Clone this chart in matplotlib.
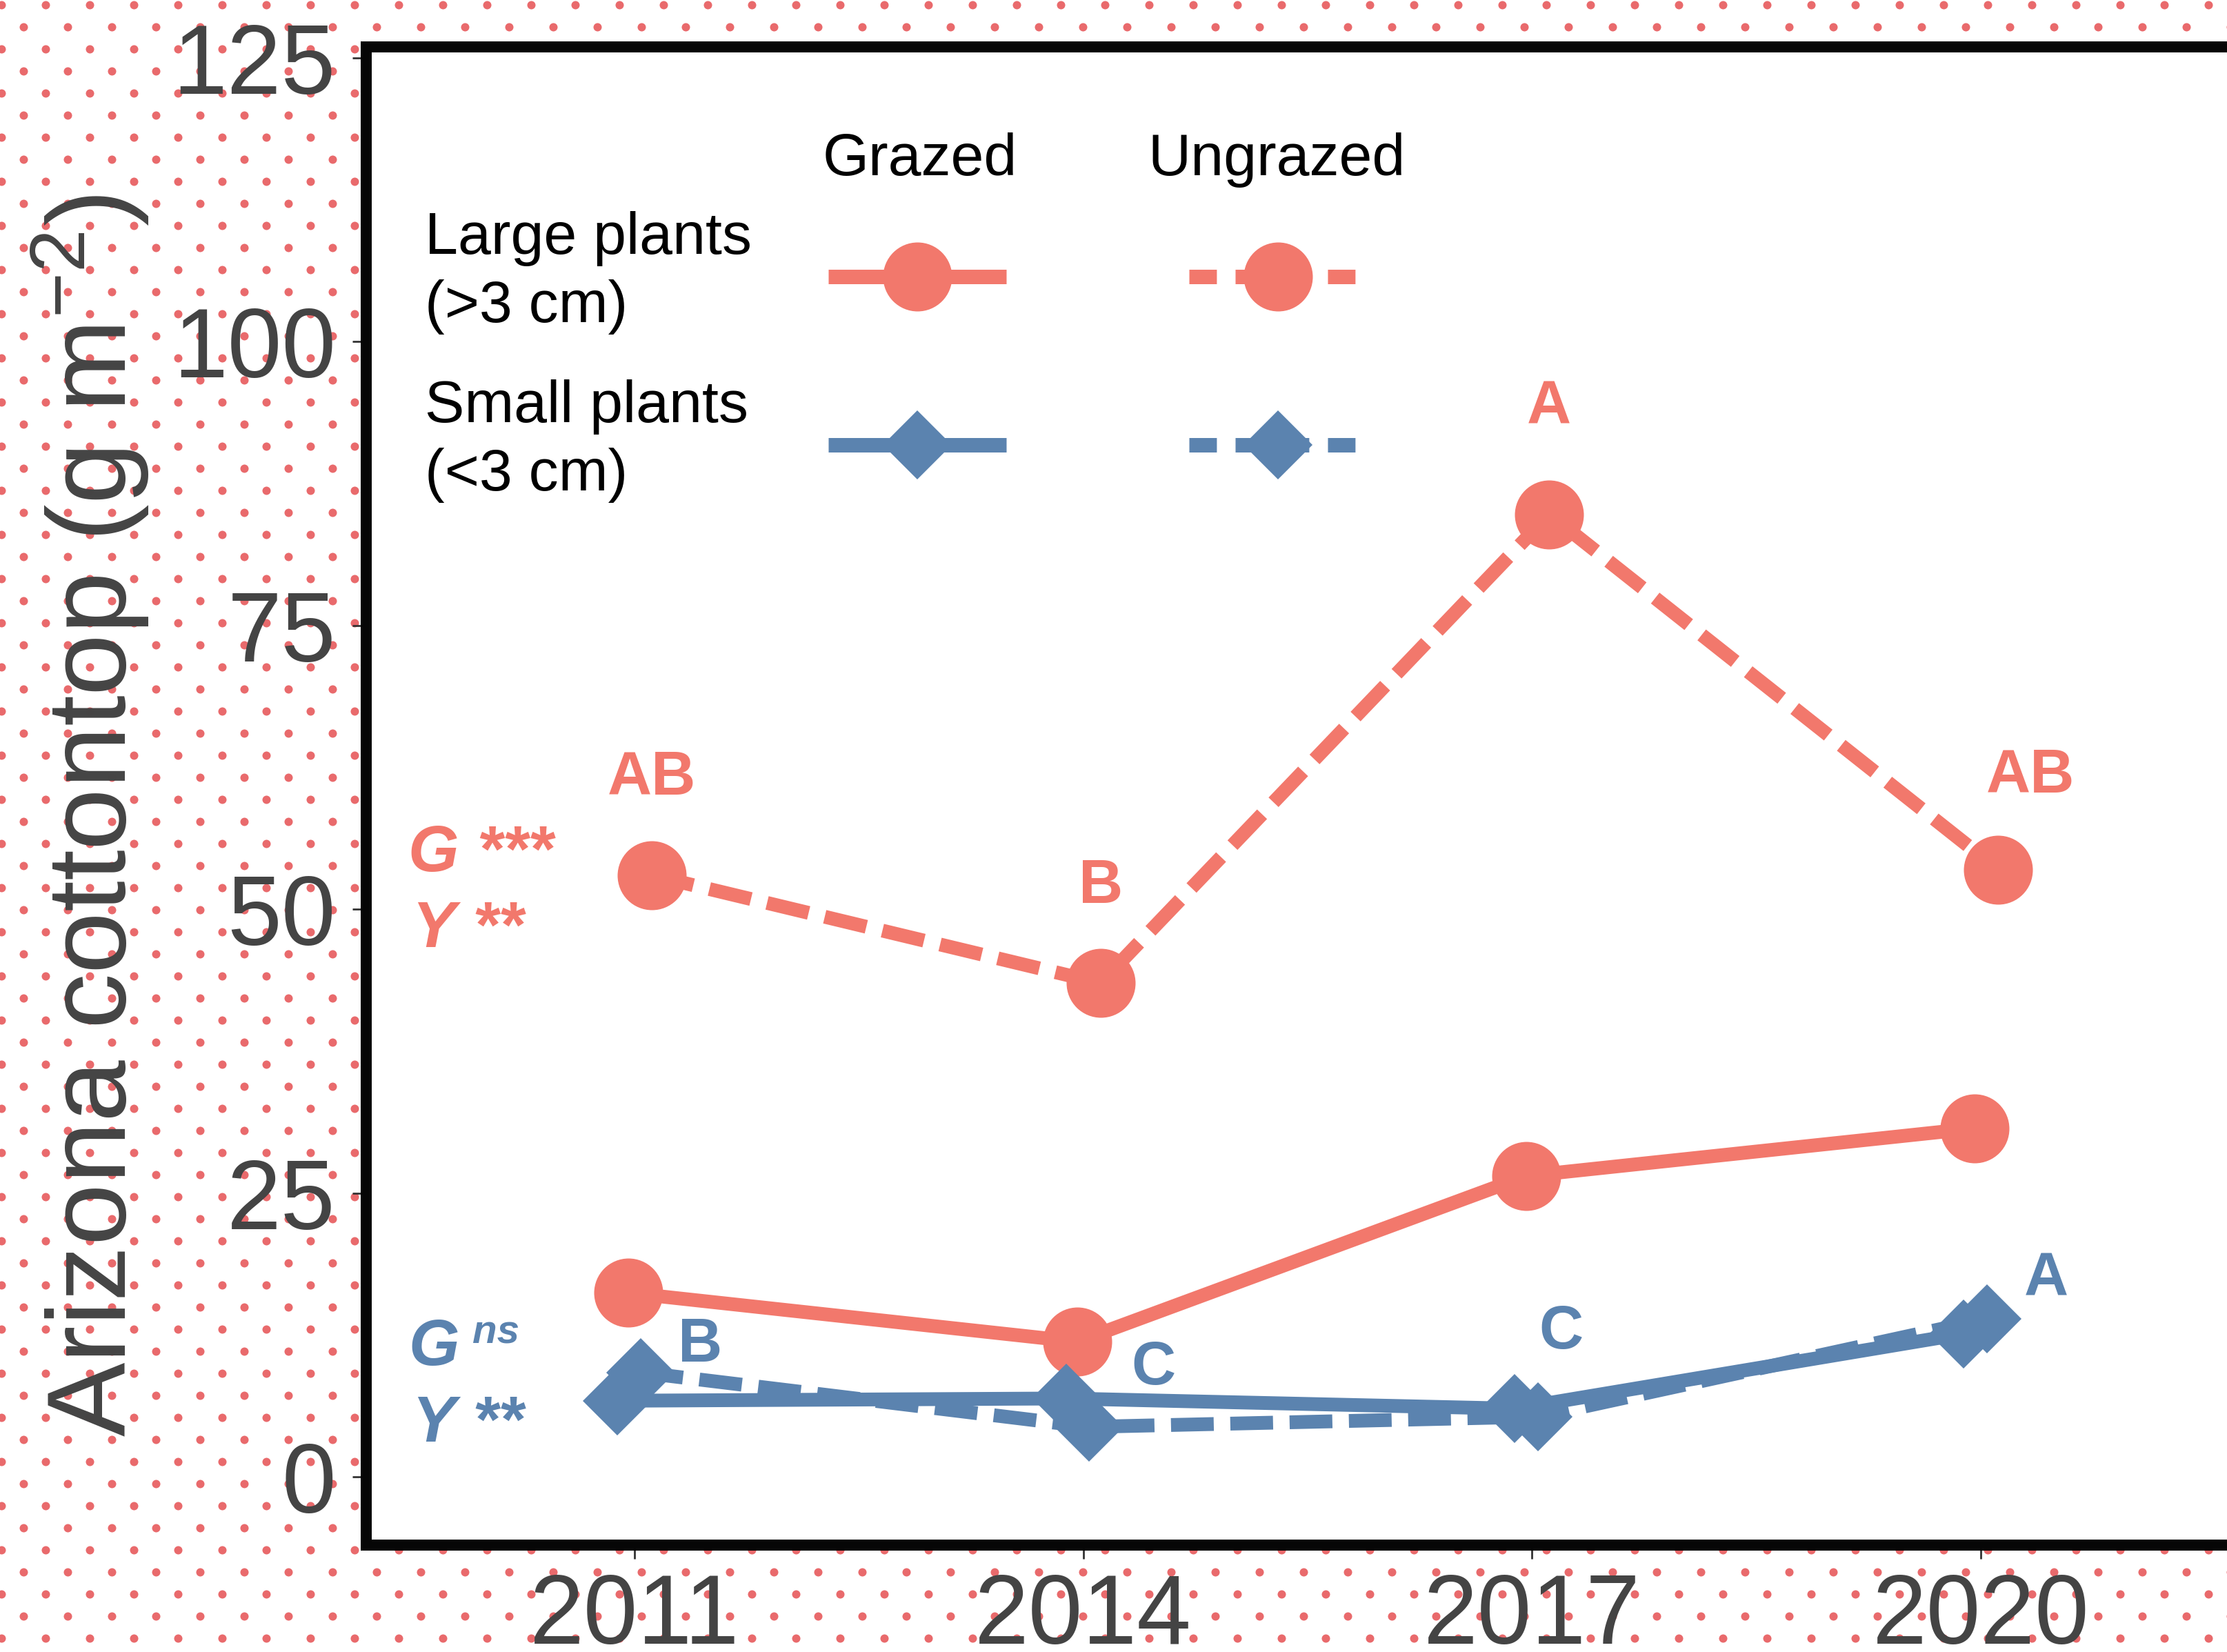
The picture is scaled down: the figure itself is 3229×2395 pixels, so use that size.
import numpy as np
import matplotlib
matplotlib.use('Agg')
import matplotlib.pyplot as plt

plt.rcParams['font.family'] = ['Liberation Sans', 'DejaVu Sans']
plt.rcParams['mathtext.fontset'] = 'custom'
plt.rcParams['mathtext.rm'] = 'Liberation Sans'
plt.rcParams['mathtext.it'] = 'Liberation Sans:italic'
plt.rcParams['mathtext.bf'] = 'Liberation Sans:bold'

# ---------------- data ----------------
years = np.array([2011, 2014, 2017, 2020])
large_grazed = [16.2, 11.9, 26.5, 30.7]
large_ungrazed = [53.0, 43.5, 84.8, 53.5]
small_grazed = [6.7, 6.9, 6.0, 12.6]
small_ungrazed = [9.2, 4.4, 5.3, 13.9]
large_letters = ['AB', 'B', 'A', 'AB']
small_letters = ['B', 'C', 'C', 'A']
yticks = [0, 25, 50, 75, 100, 125]
xtick_labels = ['2011', '2014', '2017', '2020']
ylabel = 'Arizona cottontop (g m$^{-2}$)'
legend_cols = ['Grazed', 'Ungrazed']
legend_rows = [('Large plants', '(>3 cm)'), ('Small plants', '(<3 cm)')]

# ---------------- style / layout ----------------
W, H, DPI = 3229, 2395, 200
RED = '#F2786C'
BLUE = '#5B83AF'
DOT = '#E96A6C'
GREY = '#444444'
LW = 7.2
DASH = (0, (3.1, 1.2))
DODGE = {'sg': -0.115, 'lg': -0.04, 'su': 0.04, 'lu': 0.115}
large_label_off = [(0, 50.5), (0, 50), (0, 55.5), (17, 48.5)]
small_label_off = [(31, 14), (33.5, 30.5), (12, 44), (31, 20.5)]

fig = plt.figure(figsize=(W / DPI, H / DPI), dpi=DPI)
fig.patch.set_facecolor('white')

# dotted background
bg = fig.add_axes([0, 0, 1, 1], zorder=-1)
bg.set_xlim(0, W); bg.set_ylim(H, 0); bg.axis('off')
xs, ys = [], []
for k, yy in enumerate(np.arange(7, H + 32, 32)):
    x0 = 2 if k % 2 == 0 else 34
    xx = np.arange(x0, W + 64, 64)
    xs.append(xx); ys.append(np.full_like(xx, yy))
bg.scatter(np.concatenate(xs), np.concatenate(ys), s=18.7, c=DOT, linewidths=0)

# main axes
left_px, right_px, top_px, bot_px = 530.5, 3329, 68, 2240
ax = fig.add_axes([left_px / W, 1 - bot_px / H, (right_px - left_px) / W, (bot_px - top_px) / H], zorder=0)
ax.set_facecolor('white')
px_per_year = 216.9
x0 = 2011 - (920 - left_px) / px_per_year
ax.set_xlim(x0, x0 + (right_px - left_px) / px_per_year)
ax.set_ylim(-6.016, 125.97)

for s in ax.spines.values():
    s.set_linewidth(5.76)
    s.set_color('#060606')

ax.plot(years + DODGE['lu'], large_ungrazed, color=RED, lw=LW, ls=DASH, marker='o', ms=36, mew=0, zorder=3)
ax.plot(years + DODGE['lg'], large_grazed, color=RED, lw=LW, ls='-', marker='o', ms=36, mew=0, zorder=3)
ax.plot(years + DODGE['su'], small_ungrazed, color=BLUE, lw=LW, ls=DASH, marker='D', ms=25.5, mew=0, zorder=4)
ax.plot(years + DODGE['sg'], small_grazed, color=BLUE, lw=LW, ls='-', marker='D', ms=25.5, mew=0, zorder=4)

for i, y in enumerate(years):
    ax.annotate(large_letters[i], (y + DODGE['lu'], large_ungrazed[i]), xytext=large_label_off[i],
                textcoords='offset points', ha='center', va='center', fontsize=32,
                fontweight='bold', color=RED)
    ax.annotate(small_letters[i], (y + DODGE['su'], small_ungrazed[i]), xytext=small_label_off[i],
                textcoords='offset points', ha='center', va='center', fontsize=32,
                fontweight='bold', color=BLUE)

ax.set_xticks(years)
ax.set_xticklabels(xtick_labels)
ax.set_yticks(yticks)
ax.set_yticklabels([str(t) for t in yticks])
ax.tick_params(axis='both', direction='out', length=7.2, width=1.0, color='#333333',
               labelsize=51, labelcolor=GREY)
ax.tick_params(axis='y', pad=8.5)
ax.tick_params(axis='x', pad=7)

# overlay for legend and annotations (pixel coordinates)
ov = fig.add_axes([0, 0, 1, 1], zorder=5)
ov.set_xlim(0, W); ov.set_ylim(H, 0); ov.axis('off')
ov.patch.set_visible(False)

fig.text(131 / W, 1 - 1183 / H, ylabel, rotation=90, ha='center', va='center',
         fontsize=58, color=GREY)

# statistics
ov.text(592, 1263, 'G ***', fontsize=34, fontweight='bold', fontstyle='italic', color=RED,
        ha='left', va='baseline')
ov.text(598, 1373, 'Y **', fontsize=34, fontweight='bold', fontstyle='italic', color=RED,
        ha='left', va='baseline')
ov.text(592, 1979, 'G', fontsize=34, fontweight='bold', fontstyle='italic', color=BLUE,
        ha='left', va='baseline')
ov.text(685, 1948, 'ns', fontsize=21, fontweight='bold', fontstyle='italic', color=BLUE,
        ha='left', va='baseline')
ov.text(598, 2090, 'Y **', fontsize=34, fontweight='bold', fontstyle='italic', color=BLUE,
        ha='left', va='baseline')

# legend
ov.text(1334, 254, legend_cols[0], ha='center', va='baseline', fontsize=31, color='black')
ov.text(1851, 254, legend_cols[1], ha='center', va='baseline', fontsize=31, color='black')
row_y = [401, 645]
text_base = [(368, 467), (612, 711)]
for (l1, l2), ry, (b1, b2), col, mk, ms in zip(legend_rows, row_y, text_base,
                                                [RED, BLUE], ['o', 'D'], [36, 25.5]):
    ov.text(616, b1, l1, ha='left', va='baseline', fontsize=31, color='black')
    ov.text(616, b2, l2, ha='left', va='baseline', fontsize=31, color='black')
    ov.plot([1201, 1459], [ry, ry], color=col, lw=7.56, solid_capstyle='butt')
    ov.plot([1330], [ry], marker=mk, ms=ms, color=col, mew=0, ls='none')
    ov.plot([1724, 1965], [ry, ry], color=col, lw=7.56, ls=(0, (1.9, 1.29)), dash_capstyle='butt')
    ov.plot([1853], [ry], marker=mk, ms=ms, color=col, mew=0, ls='none')

fig.savefig('out.png', dpi=DPI, facecolor='white')
